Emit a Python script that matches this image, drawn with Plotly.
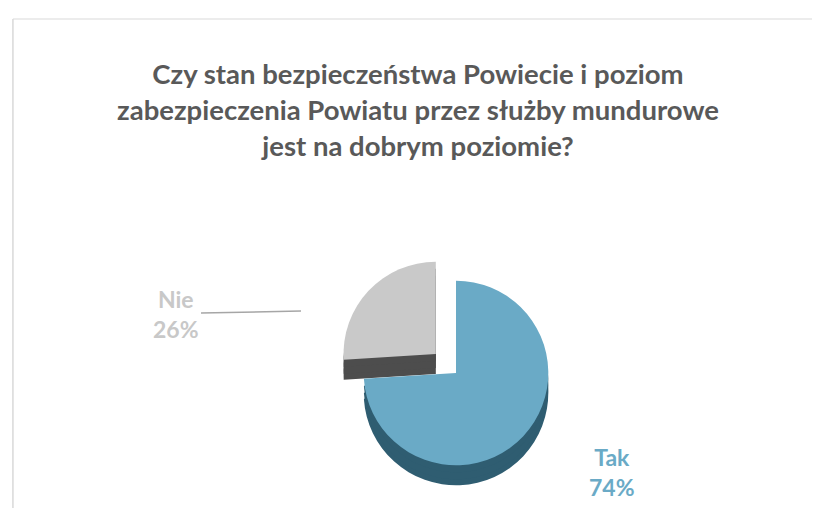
import plotly.graph_objects as go

# survey answers
labels = ["Tak", "Nie"]
shares = [74, 26]

top_colors = ["#6aaac6", "#c9c9c9"]
side_colors = ["#2f5d71", "#4d4d4d"]
label_colors = ["#6aaac6", "#c8c8c8"]
pulls = [0, 0.3]

title_text = ("Czy stan bezpieczeństwa Powiecie i poziom<br>"
              "zabezpieczenia Powiatu przez służby mundurowe<br>"
              "jest na dobrym poziomie?")

W, H = 820, 508

fig = go.Figure()

# fake extrusion: a few darker copies of the pie pushed slightly down
cx, cy, rx, ry = 448 / W, 1 - 365 / H, 120 / W, 120 / H
for shift in [20, 14, 7]:
    s = shift / H
    fig.add_trace(go.Pie(
        labels=labels, values=shares, sort=False, direction="clockwise",
        rotation=0, pull=pulls, textinfo="none", hoverinfo="skip",
        showlegend=False,
        marker=dict(colors=side_colors, line=dict(width=0)),
        domain=dict(x=[cx - rx, cx + rx], y=[cy - ry - s, cy + ry - s]),
    ))

# top face
fig.add_trace(go.Pie(
    labels=labels, values=shares, sort=False, direction="clockwise",
    rotation=0, pull=pulls, showlegend=False, textinfo="none",
    marker=dict(colors=top_colors, line=dict(width=0)),
    domain=dict(x=[cx - rx, cx + rx], y=[cy - ry, cy + ry]),
))

# data labels, placed like the original chart
label_pos = {"Tak": (604 / W, 1 - 464 / H), "Nie": (168 / W, 1 - 306 / H)}
annotations = []
for name, val, col in zip(labels, shares, label_colors):
    x, y = label_pos[name]
    annotations.append(dict(
        text=f"{name}<br>{val}%", x=x, y=y, xref="paper", yref="paper",
        xanchor="center", yanchor="middle",
        showarrow=False, align="center",
        font=dict(family="Lato", size=23, color=col, weight="bold"),
    ))

fig.update_layout(
    width=W, height=H,
    margin=dict(l=0, r=0, t=0, b=0),
    paper_bgcolor="white",
    title=dict(text=title_text, x=0.5, xanchor="center", y=0.85, yanchor="top",
               font=dict(family="Lato", size=27.5, color="#595959", weight="bold")),
    annotations=annotations,
    shapes=[
        # leader line for "Nie"
        dict(type="line", xref="paper", yref="paper", x0=193 / W, x1=293 / W,
             y0=1 - 305 / H, y1=1 - 303 / H, line=dict(color="#a6a6a6", width=1.5)),
        # chart frame
        dict(type="line", xref="paper", yref="paper", x0=0.006, x1=0.985,
             y0=1 - 11 / H, y1=1 - 11 / H, line=dict(color="#d9d9d9", width=1)),
        dict(type="line", xref="paper", yref="paper", x0=0.006, x1=0.006,
             y0=0, y1=1 - 11 / H, line=dict(color="#d9d9d9", width=1.5)),
    ],
)

fig.write_html("out.html")
